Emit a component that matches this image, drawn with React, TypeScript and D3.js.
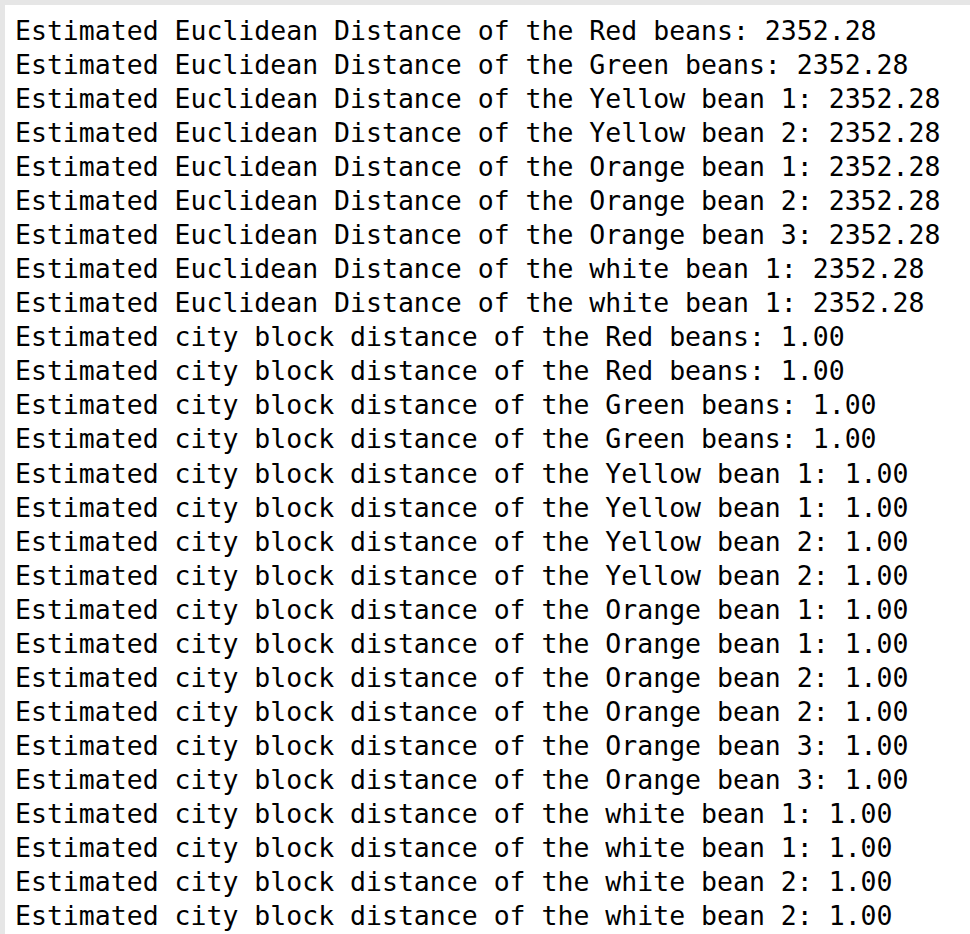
import React from "react";
import * as d3 from "d3";

const beansEuclid = ["Red beans", "Green beans", "Yellow bean 1", "Yellow bean 2", "Orange bean 1", "Orange bean 2", "Orange bean 3", "white bean 1", "white bean 1"];
const euclidValues = [2352.28, 2352.28, 2352.28, 2352.28, 2352.28, 2352.28, 2352.28, 2352.28, 2352.28];
const beansCity = ["Red beans", "Red beans", "Green beans", "Green beans", "Yellow bean 1", "Yellow bean 1", "Yellow bean 2", "Yellow bean 2", "Orange bean 1", "Orange bean 1", "Orange bean 2", "Orange bean 2", "Orange bean 3", "Orange bean 3", "white bean 1", "white bean 1", "white bean 2", "white bean 2"];
const cityValues = beansCity.map(() => 1.0);

const App = () => {
  const width = 970;
  const height = 934;
  const lines = [
    ...beansEuclid.map((b, i) => `Estimated Euclidean Distance of the ${b}: ${d3.format(".2f")(euclidValues[i])}`),
    ...beansCity.map((b, i) => `Estimated city block distance of the ${b}: ${d3.format(".2f")(cityValues[i])}`),
  ];
  const y = d3.scaleLinear([0, lines.length - 1], [40, 40 + 34.04 * (lines.length - 1)]);
  return (
    <svg width={width} height={height} style={{ position: "absolute", left: 0, top: 0 }}>
      <rect width={width} height={height} fill="#ffffff" />
      <rect x={0} y={0} width={width} height={5} fill="#e6e6e6" />
      <rect x={0} y={0} width={5} height={height} fill="#e6e6e6" />
      <g fontFamily="DejaVu Sans Mono" fontSize={26.5} fill="#000">
        {lines.map((t, i) => (
          <text key={i} x={15} y={y(i)} style={{ whiteSpace: "pre" }}>{t}</text>
        ))}
      </g>
    </svg>
  );
};

export default App;
